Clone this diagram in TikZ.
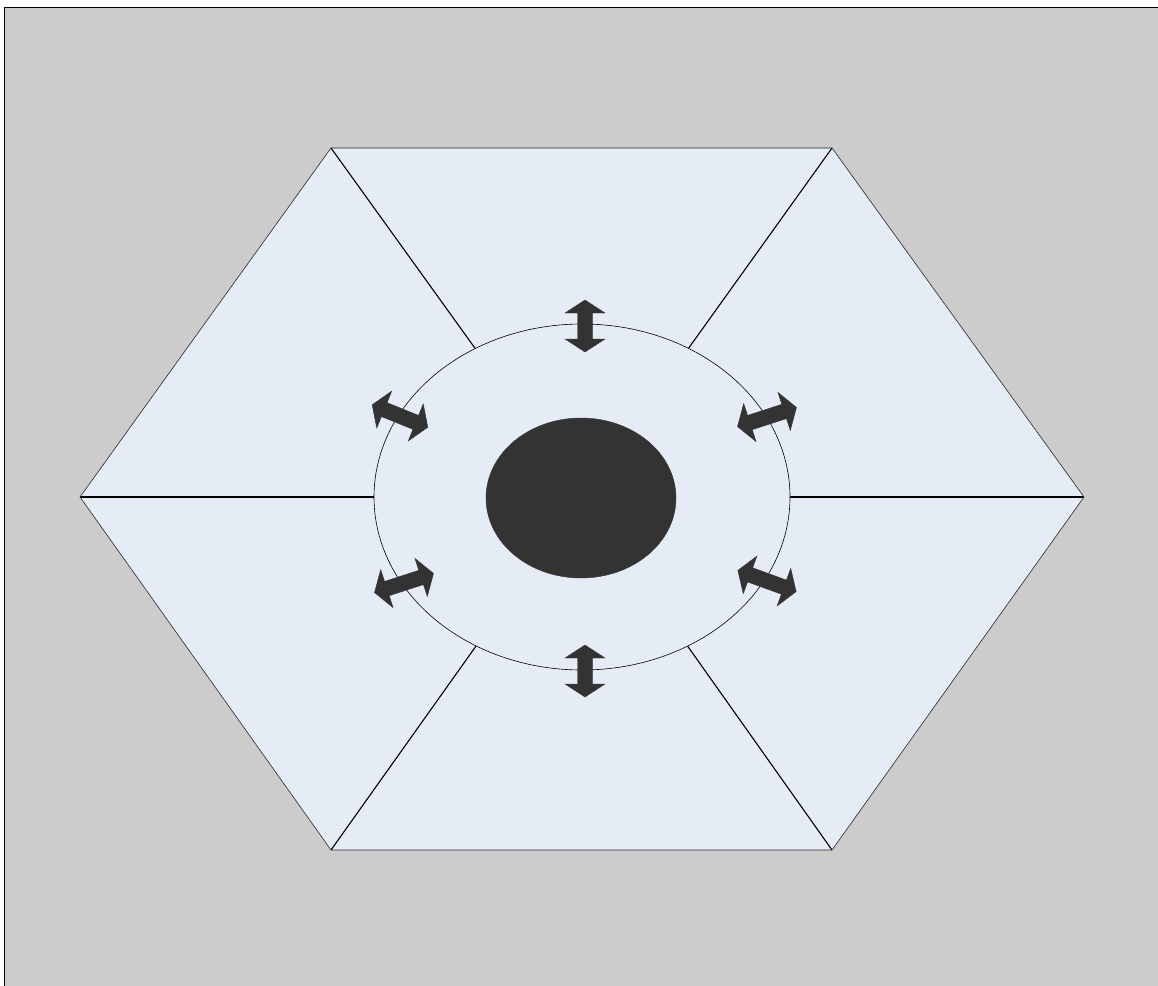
\documentclass[tikz,border=0pt]{standalone}
\usetikzlibrary{shapes.geometric}
\definecolor{bggray}{HTML}{CCCCCC}
\definecolor{hexfill}{HTML}{E6ECF6}
\definecolor{dark}{HTML}{333333}
\tikzset{
  hexedge/.style={draw=black!85, line width=0.6pt},
  spoke/.style={draw=black, line width=1.1pt},
  dblarrow/.pic={\fill[dark, draw=black!80, line width=0.4pt, line join=miter]
    (-#1,0) -- (-#1+13,-20) -- (-#1+13,-7.5) -- (#1-13,-7.5) -- (#1-13,-20) -- (#1,0)
    -- (#1-13,20) -- (#1-13,7.5) -- (-#1+13,7.5) -- (-#1+13,20) -- cycle;}
}
\begin{document}
\begin{tikzpicture}[x=1pt,y=-1pt]
\useasboundingbox (0,0) rectangle (1158,985);
\clip (0,0) rectangle (1158,985);
\draw[fill=bggray, draw=black, line width=1pt] (4,7) rectangle (1165,995);
\coordinate (c) at (582,497);
\coordinate (v1) at (80,497);
\coordinate (v2) at (331,148);
\coordinate (v3) at (832,148);
\coordinate (v4) at (1084,497);
\coordinate (v5) at (832,850);
\coordinate (v6) at (331,850);
\fill[hexfill] (v1) -- (v2) -- (v3) -- (v4) -- (v5) -- (v6) -- cycle;
\foreach \v in {v1,v2,v3,v4,v5,v6} \draw[spoke] (c) -- (\v);
\draw[hexedge] (v1) -- (v2) -- (v3) -- (v4) -- (v5) -- (v6) -- cycle;
\node[ellipse, draw=black, line width=0.6pt, fill=hexfill, minimum width=416pt, minimum height=346pt, inner sep=0pt] (ring) at (c) {};
\node[ellipse, draw=black!80, line width=0.4pt, fill=dark, minimum width=190pt, minimum height=160pt, inner sep=0pt] (core) at (581,498) {};
\pic[rotate=90] at (585,326) {dblarrow=26};
\pic[rotate=90] at (585,671) {dblarrow=26};
\pic[rotate=-22] at (400,416) {dblarrow=30};
\pic[rotate=18] at (767,417) {dblarrow=31};
\pic[rotate=18] at (404,583) {dblarrow=31};
\pic[rotate=-20] at (767,581) {dblarrow=31};
\end{tikzpicture}
\end{document}
